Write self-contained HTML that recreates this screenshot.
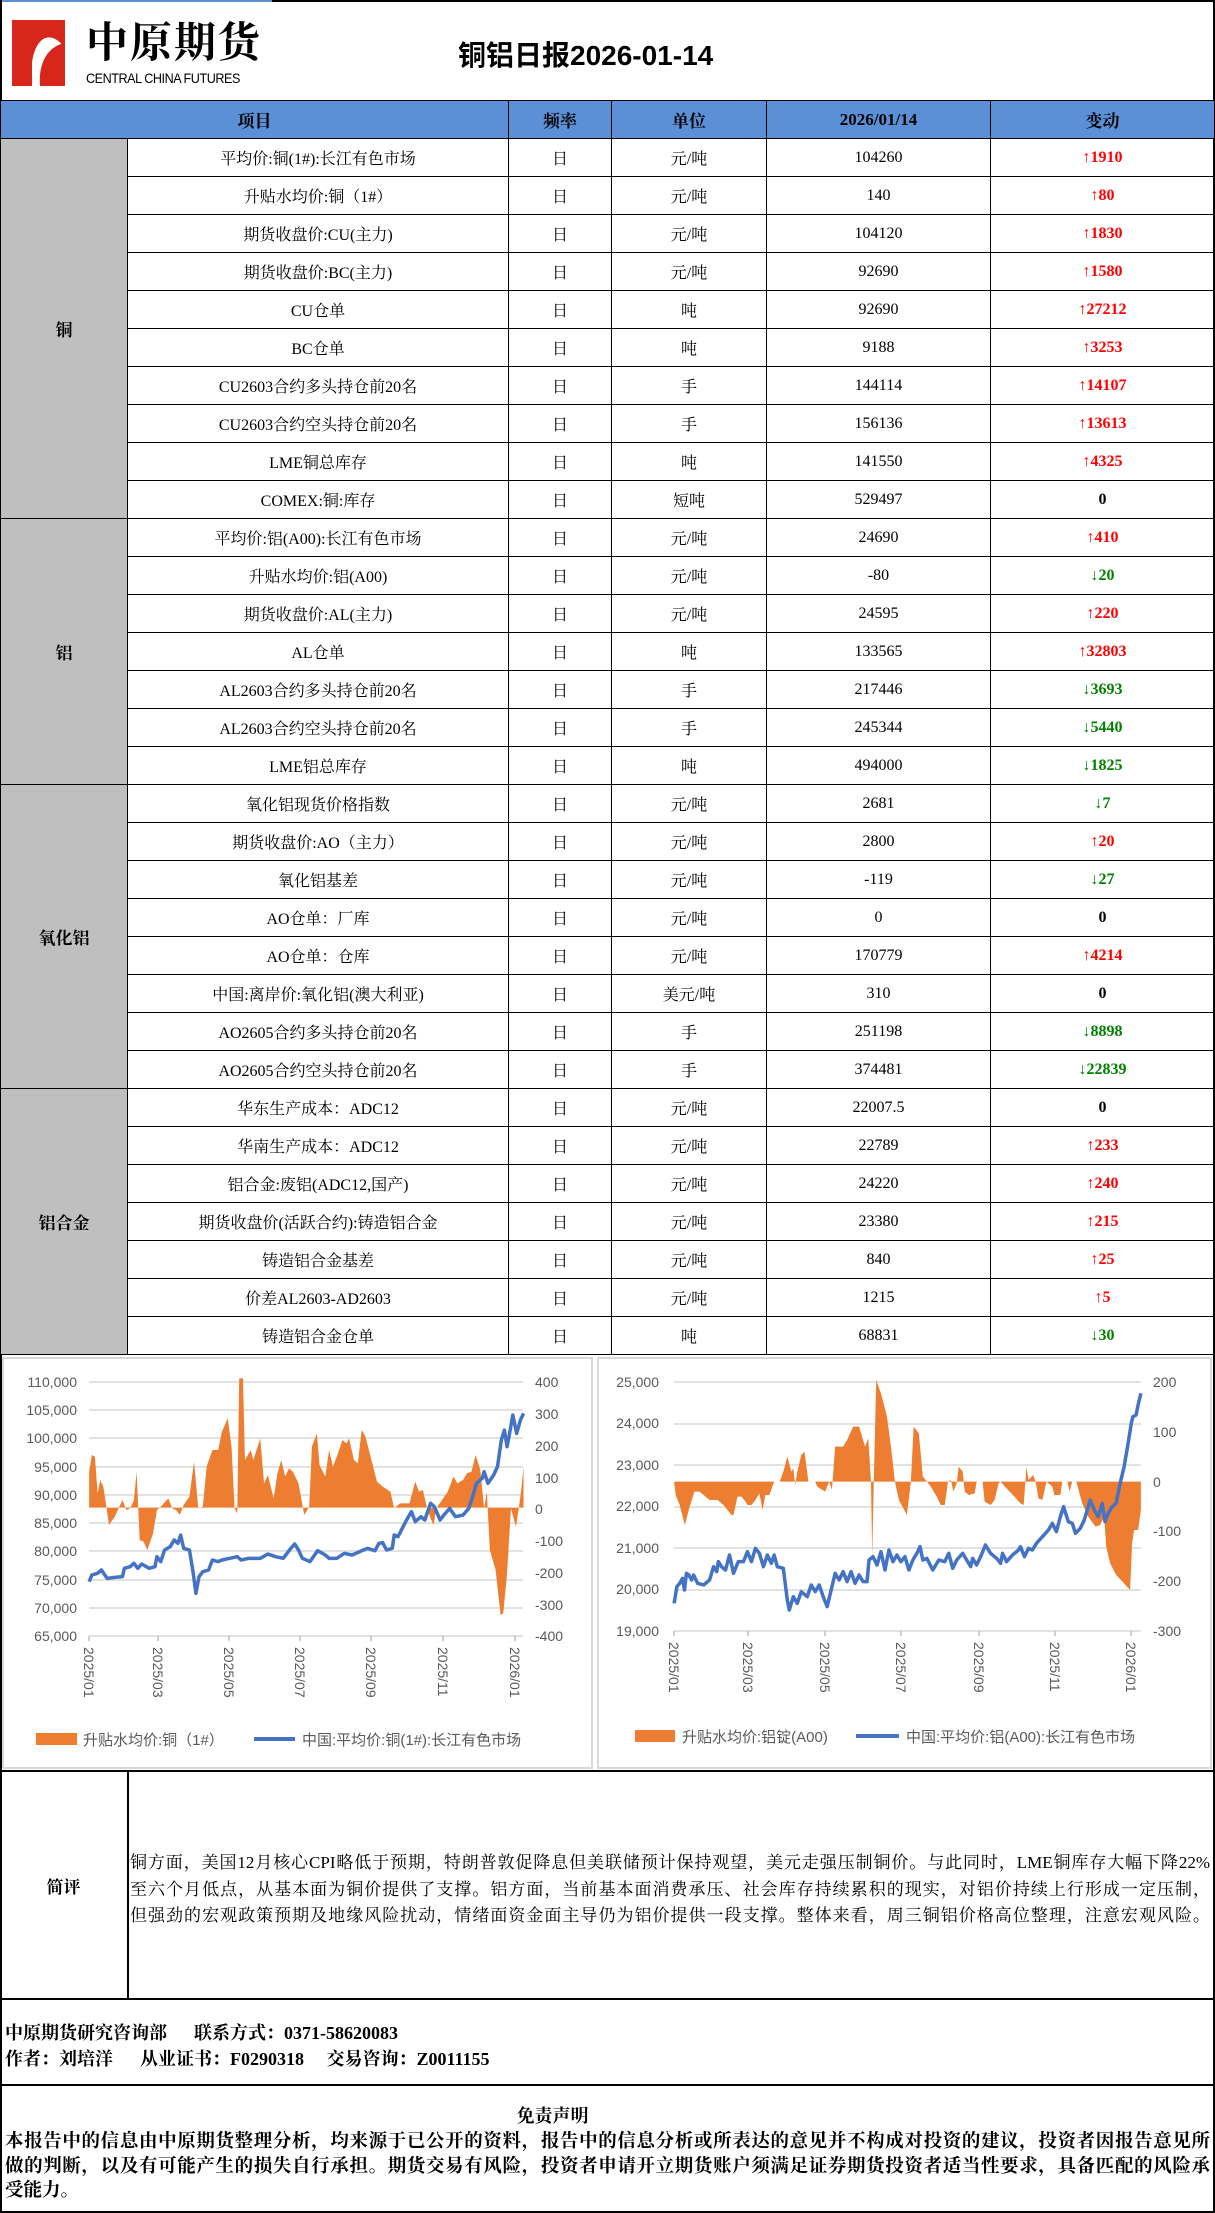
<!DOCTYPE html>
<html><head><meta charset="utf-8">
<style>
*{margin:0;padding:0;box-sizing:border-box}
body{width:1215px;height:2213px;background:#fff;position:relative;overflow:hidden;font-family:"Liberation Serif","Noto Serif CJK SC",serif;color:#000}
.abs{position:absolute}
table{position:absolute;left:0;top:100px;width:1214px;border-collapse:collapse;table-layout:fixed}
td{border:1.5px solid #000;height:38px;text-align:center;vertical-align:middle;font-size:16px;white-space:nowrap;overflow:hidden}
tr.h td{background:#5b8fd6;font-weight:bold;font-size:17px}
td.g{background:#bfbfbf;font-weight:bold;font-size:17px}
.r{color:#f00;font-weight:bold}
.gr{color:#008000;font-weight:bold}
.b{font-weight:bold}
.ax{font-family:"Liberation Sans","Noto Sans CJK SC",sans-serif;font-size:14px;fill:#595959}
.lg{font-family:"Liberation Sans","Noto Sans CJK SC",sans-serif;font-size:15px;fill:#595959}
.line{font-size:17px;width:1080px;text-align:justify;text-align-last:justify;white-space:nowrap;position:absolute;left:130px}
.dl{font-size:18.5px;font-weight:bold;width:1205px;text-align:justify;text-align-last:justify;white-space:nowrap;position:absolute;left:5px}
</style></head><body>
<div class="abs" style="left:0;top:0;width:272px;height:2px;background:#5b8fd6"></div>
<div class="abs" style="left:272px;top:0;width:943px;height:1.5px;background:#000"></div>
<div class="abs" style="left:1213px;top:0;width:1.5px;height:2213px;background:#000"></div>
<div class="abs" style="left:0;top:0;width:1.5px;height:2213px;background:#000"></div>
<svg class="abs" style="left:10px;top:18px" width="60" height="70" viewBox="0 0 60 70">
<path d="M2 2 L55 2 L55 30 C40 10 25 20 22 45 L22 68 L2 68 Z" fill="#d9261c"/>
<path d="M30 68 C28 45 38 28 55 25 L55 68 Z" fill="#d9261c"/>
</svg>
<div class="abs b" style="left:86px;top:16px;font-size:42px;letter-spacing:2px;font-family:'Noto Serif CJK SC',serif;line-height:48px">中原期货</div>
<div class="abs" style="left:86px;top:70px;font-size:14px;font-family:'Liberation Sans',sans-serif;letter-spacing:-0.5px;transform:scaleX(0.9);transform-origin:left">CENTRAL CHINA FUTURES</div>
<div class="abs b" style="left:458px;top:34px;font-size:28px;font-family:'Liberation Sans','Noto Sans CJK SC',sans-serif">铜铝日报2026-01-14</div>

<table>
<colgroup><col style="width:127px"><col style="width:381px"><col style="width:103px"><col style="width:155px"><col style="width:224px"><col style="width:224px"></colgroup>
<tr class="h"><td colspan="2">项目</td><td>频率</td><td>单位</td><td>2026/01/14</td><td>变动</td></tr>
<tr><td class="g" rowspan="10">铜</td><td>平均价:铜(1#):长江有色市场</td><td>日</td><td>元/吨</td><td>104260</td><td class="r">↑1910</td></tr>
<tr><td>升贴水均价:铜（1#）</td><td>日</td><td>元/吨</td><td>140</td><td class="r">↑80</td></tr>
<tr><td>期货收盘价:CU(主力)</td><td>日</td><td>元/吨</td><td>104120</td><td class="r">↑1830</td></tr>
<tr><td>期货收盘价:BC(主力)</td><td>日</td><td>元/吨</td><td>92690</td><td class="r">↑1580</td></tr>
<tr><td>CU仓单</td><td>日</td><td>吨</td><td>92690</td><td class="r">↑27212</td></tr>
<tr><td>BC仓单</td><td>日</td><td>吨</td><td>9188</td><td class="r">↑3253</td></tr>
<tr><td>CU2603合约多头持仓前20名</td><td>日</td><td>手</td><td>144114</td><td class="r">↑14107</td></tr>
<tr><td>CU2603合约空头持仓前20名</td><td>日</td><td>手</td><td>156136</td><td class="r">↑13613</td></tr>
<tr><td>LME铜总库存</td><td>日</td><td>吨</td><td>141550</td><td class="r">↑4325</td></tr>
<tr><td>COMEX:铜:库存</td><td>日</td><td>短吨</td><td>529497</td><td class="b">0</td></tr>
<tr><td class="g" rowspan="7">铝</td><td>平均价:铝(A00):长江有色市场</td><td>日</td><td>元/吨</td><td>24690</td><td class="r">↑410</td></tr>
<tr><td>升贴水均价:铝(A00)</td><td>日</td><td>元/吨</td><td>-80</td><td class="gr">↓20</td></tr>
<tr><td>期货收盘价:AL(主力)</td><td>日</td><td>元/吨</td><td>24595</td><td class="r">↑220</td></tr>
<tr><td>AL仓单</td><td>日</td><td>吨</td><td>133565</td><td class="r">↑32803</td></tr>
<tr><td>AL2603合约多头持仓前20名</td><td>日</td><td>手</td><td>217446</td><td class="gr">↓3693</td></tr>
<tr><td>AL2603合约空头持仓前20名</td><td>日</td><td>手</td><td>245344</td><td class="gr">↓5440</td></tr>
<tr><td>LME铝总库存</td><td>日</td><td>吨</td><td>494000</td><td class="gr">↓1825</td></tr>
<tr><td class="g" rowspan="8">氧化铝</td><td>氧化铝现货价格指数</td><td>日</td><td>元/吨</td><td>2681</td><td class="gr">↓7</td></tr>
<tr><td>期货收盘价:AO（主力）</td><td>日</td><td>元/吨</td><td>2800</td><td class="r">↑20</td></tr>
<tr><td>氧化铝基差</td><td>日</td><td>元/吨</td><td>-119</td><td class="gr">↓27</td></tr>
<tr><td>AO仓单：厂库</td><td>日</td><td>元/吨</td><td>0</td><td class="b">0</td></tr>
<tr><td>AO仓单：仓库</td><td>日</td><td>元/吨</td><td>170779</td><td class="r">↑4214</td></tr>
<tr><td>中国:离岸价:氧化铝(澳大利亚)</td><td>日</td><td>美元/吨</td><td>310</td><td class="b">0</td></tr>
<tr><td>AO2605合约多头持仓前20名</td><td>日</td><td>手</td><td>251198</td><td class="gr">↓8898</td></tr>
<tr><td>AO2605合约空头持仓前20名</td><td>日</td><td>手</td><td>374481</td><td class="gr">↓22839</td></tr>
<tr><td class="g" rowspan="7">铝合金</td><td>华东生产成本：ADC12</td><td>日</td><td>元/吨</td><td>22007.5</td><td class="b">0</td></tr>
<tr><td>华南生产成本：ADC12</td><td>日</td><td>元/吨</td><td>22789</td><td class="r">↑233</td></tr>
<tr><td>铝合金:废铝(ADC12,国产)</td><td>日</td><td>元/吨</td><td>24220</td><td class="r">↑240</td></tr>
<tr><td>期货收盘价(活跃合约):铸造铝合金</td><td>日</td><td>元/吨</td><td>23380</td><td class="r">↑215</td></tr>
<tr><td>铸造铝合金基差</td><td>日</td><td>元/吨</td><td>840</td><td class="r">↑25</td></tr>
<tr><td>价差AL2603-AD2603</td><td>日</td><td>元/吨</td><td>1215</td><td class="r">↑5</td></tr>
<tr><td>铸造铝合金仓单</td><td>日</td><td>吨</td><td>68831</td><td class="gr">↓30</td></tr>
</table>

<svg class="abs" style="left:0;top:0" width="1215" height="2213">
<rect x="3" y="1358" width="589" height="410" fill="#fff" stroke="#d9d9d9" stroke-width="2"/>
<rect x="598" y="1358" width="613" height="410" fill="#fff" stroke="#d9d9d9" stroke-width="2"/>
<g stroke="#d9d9d9" stroke-width="1.5">
<line x1="89" x2="523" y1="1382" y2="1382"/><line x1="89" x2="523" y1="1410" y2="1410"/><line x1="89" x2="523" y1="1438" y2="1438"/><line x1="89" x2="523" y1="1467" y2="1467"/><line x1="89" x2="523" y1="1495" y2="1495"/><line x1="89" x2="523" y1="1523" y2="1523"/><line x1="89" x2="523" y1="1551" y2="1551"/><line x1="89" x2="523" y1="1580" y2="1580"/><line x1="89" x2="523" y1="1608" y2="1608"/><line x1="89" x2="523" y1="1636" y2="1636"/>
<line x1="674" x2="1141" y1="1382" y2="1382"/><line x1="674" x2="1141" y1="1424" y2="1424"/><line x1="674" x2="1141" y1="1465" y2="1465"/><line x1="674" x2="1141" y1="1507" y2="1507"/><line x1="674" x2="1141" y1="1548" y2="1548"/><line x1="674" x2="1141" y1="1590" y2="1590"/><line x1="674" x2="1141" y1="1631" y2="1631"/>
</g>
<g stroke="#bfbfbf" stroke-width="1.5">
<line x1="89" y1="1636" x2="89" y2="1641"/><line x1="158" y1="1636" x2="158" y2="1641"/><line x1="229" y1="1636" x2="229" y2="1641"/><line x1="300" y1="1636" x2="300" y2="1641"/><line x1="371" y1="1636" x2="371" y2="1641"/><line x1="443" y1="1636" x2="443" y2="1641"/><line x1="515" y1="1636" x2="515" y2="1641"/>
<line x1="674" y1="1631" x2="674" y2="1636"/><line x1="748" y1="1631" x2="748" y2="1636"/><line x1="825" y1="1631" x2="825" y2="1636"/><line x1="901" y1="1631" x2="901" y2="1636"/><line x1="979" y1="1631" x2="979" y2="1636"/><line x1="1055" y1="1631" x2="1055" y2="1636"/><line x1="1131" y1="1631" x2="1131" y2="1636"/>
</g>
<g transform="translate(0,1340) scale(0.3827,0.33333)">
<polygon fill="#ed7d31" points="233,503 233,395 240,345 248,350 255,460 262,420 270,440 285,555 300,530 320,480 330,510 340,505 350,480 357,395 365,600 375,605 385,630 400,580 410,510 420,500 440,475 450,505 460,510 470,525 480,495 495,470 507,365 518,505 530,500 540,380 555,330 570,330 580,275 595,235 605,320 613,505 620,520 625,115 635,115 640,360 655,330 662,360 680,295 690,430 700,405 715,475 725,400 735,360 745,410 755,385 765,395 780,430 795,525 808,500 815,320 828,280 835,375 850,410 860,330 870,380 880,350 895,300 905,310 912,295 925,360 935,370 945,270 955,290 975,380 985,425 1000,440 1020,455 1030,505 1045,490 1070,490 1085,425 1095,455 1105,450 1115,500 1125,535 1133,555 1140,505 1155,480 1170,455 1185,410 1195,430 1210,420 1220,400 1232,395 1243,345 1255,390 1265,505 1272,455 1280,630 1295,690 1308,825 1315,820 1325,700 1335,505 1348,560 1355,510 1362,450 1368,380 1368,503"/>
<polyline fill="none" stroke="#4472c4" stroke-width="3.5" vector-effect="non-scaling-stroke" stroke-linejoin="round" points="233,725 240,705 255,700 265,690 280,715 300,712 320,710 325,685 340,680 350,670 360,685 370,672 390,685 405,680 410,650 420,665 430,630 445,620 455,600 465,610 472,585 480,625 495,630 505,700 512,760 520,710 530,695 545,690 555,660 570,665 580,660 600,655 620,650 630,660 650,655 680,655 700,642 720,650 740,655 760,625 770,612 780,630 790,655 810,665 830,632 850,645 860,655 880,655 900,640 920,645 940,635 960,625 980,632 990,610 1000,608 1010,630 1025,625 1030,585 1040,590 1060,545 1075,515 1085,545 1100,530 1110,540 1125,490 1135,500 1150,540 1160,525 1175,505 1190,530 1210,525 1225,505 1235,470 1245,430 1260,415 1265,395 1275,430 1290,405 1300,380 1310,300 1318,270 1325,320 1330,290 1340,225 1350,280 1360,240 1368,220"/>
</g>
<g transform="translate(590,1340) scale(0.3986,0.33333)">
<polygon fill="#ed7d31" points="211,425 215,465 225,495 238,555 250,500 262,455 275,455 290,470 300,480 320,480 335,495 355,525 360,525 370,470 380,470 390,485 395,495 405,495 415,480 425,460 433,510 440,465 450,465 462,425 476,425 485,395 495,350 505,395 510,385 515,435 520,395 530,345 538,335 548,425 565,425 570,440 590,455 600,425 607,450 615,320 635,320 645,300 660,260 675,260 690,320 698,295 705,425 708,650 712,425 718,120 730,160 745,230 755,320 765,425 775,480 795,525 805,425 812,260 825,280 835,410 845,425 855,440 870,470 880,495 890,495 898,425 905,420 912,455 920,430 925,380 935,395 940,455 950,465 965,460 970,425 985,425 990,485 1005,495 1015,480 1025,430 1030,425 1045,445 1065,470 1080,490 1088,495 1095,380 1100,420 1112,405 1118,425 1125,475 1135,480 1145,425 1160,440 1165,465 1180,465 1185,425 1198,425 1203,455 1210,425 1220,425 1235,490 1250,530 1268,560 1280,555 1290,530 1295,620 1305,670 1320,705 1340,730 1355,750 1360,610 1365,570 1375,570 1382,510 1382,425"/>
<polyline fill="none" stroke="#4472c4" stroke-width="3.5" vector-effect="non-scaling-stroke" stroke-linejoin="round" points="211,790 218,740 225,730 232,715 237,750 242,700 248,705 255,720 260,705 270,730 285,735 300,720 310,680 318,695 322,665 330,680 340,690 350,645 360,700 372,665 385,665 395,635 405,665 415,625 425,640 435,680 445,645 455,670 462,645 470,680 485,685 495,780 500,810 510,770 520,790 530,755 545,770 555,735 565,755 575,735 585,770 595,800 605,750 615,700 625,720 635,695 645,725 655,695 665,730 675,705 685,725 695,725 700,660 710,650 720,675 730,635 740,690 750,630 760,665 770,645 780,665 790,650 800,690 810,660 820,640 828,620 835,660 845,655 860,690 875,660 890,665 900,640 910,685 920,660 935,640 945,660 955,680 960,655 970,675 980,650 992,615 1005,640 1020,655 1030,670 1035,640 1045,665 1060,645 1075,630 1080,620 1090,650 1100,625 1110,630 1120,610 1135,590 1150,570 1160,550 1170,575 1180,530 1188,500 1200,545 1210,550 1218,580 1230,565 1240,540 1255,480 1265,510 1275,530 1285,490 1292,545 1300,520 1310,500 1320,490 1330,430 1340,380 1350,310 1358,250 1362,230 1370,225 1375,195 1382,160"/>
</g>
<g class="ax" text-anchor="end">
<text x="77" y="1387">110,000</text><text x="77" y="1415">105,000</text><text x="77" y="1443">100,000</text><text x="77" y="1472">95,000</text><text x="77" y="1500">90,000</text><text x="77" y="1528">85,000</text><text x="77" y="1556">80,000</text><text x="77" y="1585">75,000</text><text x="77" y="1613">70,000</text><text x="77" y="1641">65,000</text>
<text x="659" y="1387">25,000</text><text x="659" y="1428">24,000</text><text x="659" y="1470">23,000</text><text x="659" y="1511">22,000</text><text x="659" y="1553">21,000</text><text x="659" y="1594">20,000</text><text x="659" y="1636">19,000</text>
</g>
<g class="ax">
<text x="535" y="1387">400</text><text x="535" y="1419">300</text><text x="535" y="1451">200</text><text x="535" y="1483">100</text><text x="535" y="1514">0</text><text x="535" y="1546">-100</text><text x="535" y="1578">-200</text><text x="535" y="1610">-300</text><text x="535" y="1641">-400</text>
<text x="1153" y="1387">200</text><text x="1153" y="1437">100</text><text x="1153" y="1487">0</text><text x="1153" y="1536">-100</text><text x="1153" y="1586">-200</text><text x="1153" y="1636">-300</text>
</g>
<g class="ax">
<text transform="translate(84,1647) rotate(90)">2025/01</text><text transform="translate(153,1647) rotate(90)">2025/03</text><text transform="translate(224,1647) rotate(90)">2025/05</text><text transform="translate(295,1647) rotate(90)">2025/07</text><text transform="translate(366,1647) rotate(90)">2025/09</text><text transform="translate(438,1647) rotate(90)">2025/11</text><text transform="translate(510,1647) rotate(90)">2026/01</text>
<text transform="translate(669,1642) rotate(90)">2025/01</text><text transform="translate(743,1642) rotate(90)">2025/03</text><text transform="translate(820,1642) rotate(90)">2025/05</text><text transform="translate(896,1642) rotate(90)">2025/07</text><text transform="translate(974,1642) rotate(90)">2025/09</text><text transform="translate(1050,1642) rotate(90)">2025/11</text><text transform="translate(1126,1642) rotate(90)">2026/01</text>
</g>
<rect x="36" y="1733" width="41" height="12" fill="#ed7d31"/>
<text class="lg" x="83" y="1745">升贴水均价:铜（1#）</text>
<line x1="254" y1="1739" x2="295" y2="1739" stroke="#4472c4" stroke-width="4"/>
<text class="lg" x="302" y="1745">中国:平均价:铜(1#):长江有色市场</text>
<rect x="635" y="1730" width="40" height="12" fill="#ed7d31"/>
<text class="lg" x="682" y="1742">升贴水均价:铝锭(A00)</text>
<line x1="856" y1="1736" x2="899" y2="1736" stroke="#4472c4" stroke-width="4"/>
<text class="lg" x="906" y="1742">中国:平均价:铝(A00):长江有色市场</text>
</svg>

<div class="abs" style="left:0;top:1770px;width:1215px;height:1.5px;background:#000"></div>
<div class="abs" style="left:127px;top:1770px;width:1.5px;height:228px;background:#000"></div>
<div class="abs b" style="left:0;top:1873px;width:127px;text-align:center;font-size:17px">简评</div>
<div class="line" style="top:1848px">铜方面，美国12月核心CPI略低于预期，特朗普敦促降息但美联储预计保持观望，美元走强压制铜价。与此同时，LME铜库存大幅下降22%</div>
<div class="line" style="top:1875px">至六个月低点，从基本面为铜价提供了支撑。铝方面，当前基本面消费承压、社会库存持续累积的现实，对铝价持续上行形成一定压制，</div>
<div class="line" style="top:1901px">但强劲的宏观政策预期及地缘风险扰动，情绪面资金面主导仍为铝价提供一段支撑。整体来看，周三铜铝价格高位整理，注意宏观风险。</div>
<div class="abs" style="left:0;top:1998px;width:1215px;height:1.5px;background:#000"></div>
<div class="abs b" style="left:5px;top:2019px;font-size:18px;white-space:pre">中原期货研究咨询部      联系方式：0371-58620083</div>
<div class="abs b" style="left:5px;top:2045px;font-size:18px;white-space:pre">作者：刘培洋      从业证书：F0290318     交易咨询：Z0011155</div>
<div class="abs" style="left:0;top:2084px;width:1215px;height:1.5px;background:#000"></div>
<div class="abs b" style="left:0;top:2102px;width:1105px;text-align:center;font-size:18px">免责声明</div>
<div class="dl" style="top:2127px">本报告中的信息由中原期货整理分析，均来源于已公开的资料，报告中的信息分析或所表达的意见并不构成对投资的建议，投资者因报告意见所</div>
<div class="dl" style="top:2152px">做的判断，以及有可能产生的损失自行承担。期货交易有风险，投资者申请开立期货账户须满足证券期货投资者适当性要求，具备匹配的风险承</div>
<div class="abs b" style="left:5px;top:2176px;font-size:18.5px">受能力。</div>
<div class="abs" style="left:0;top:2211px;width:1215px;height:2px;background:#000"></div>
</body></html>
